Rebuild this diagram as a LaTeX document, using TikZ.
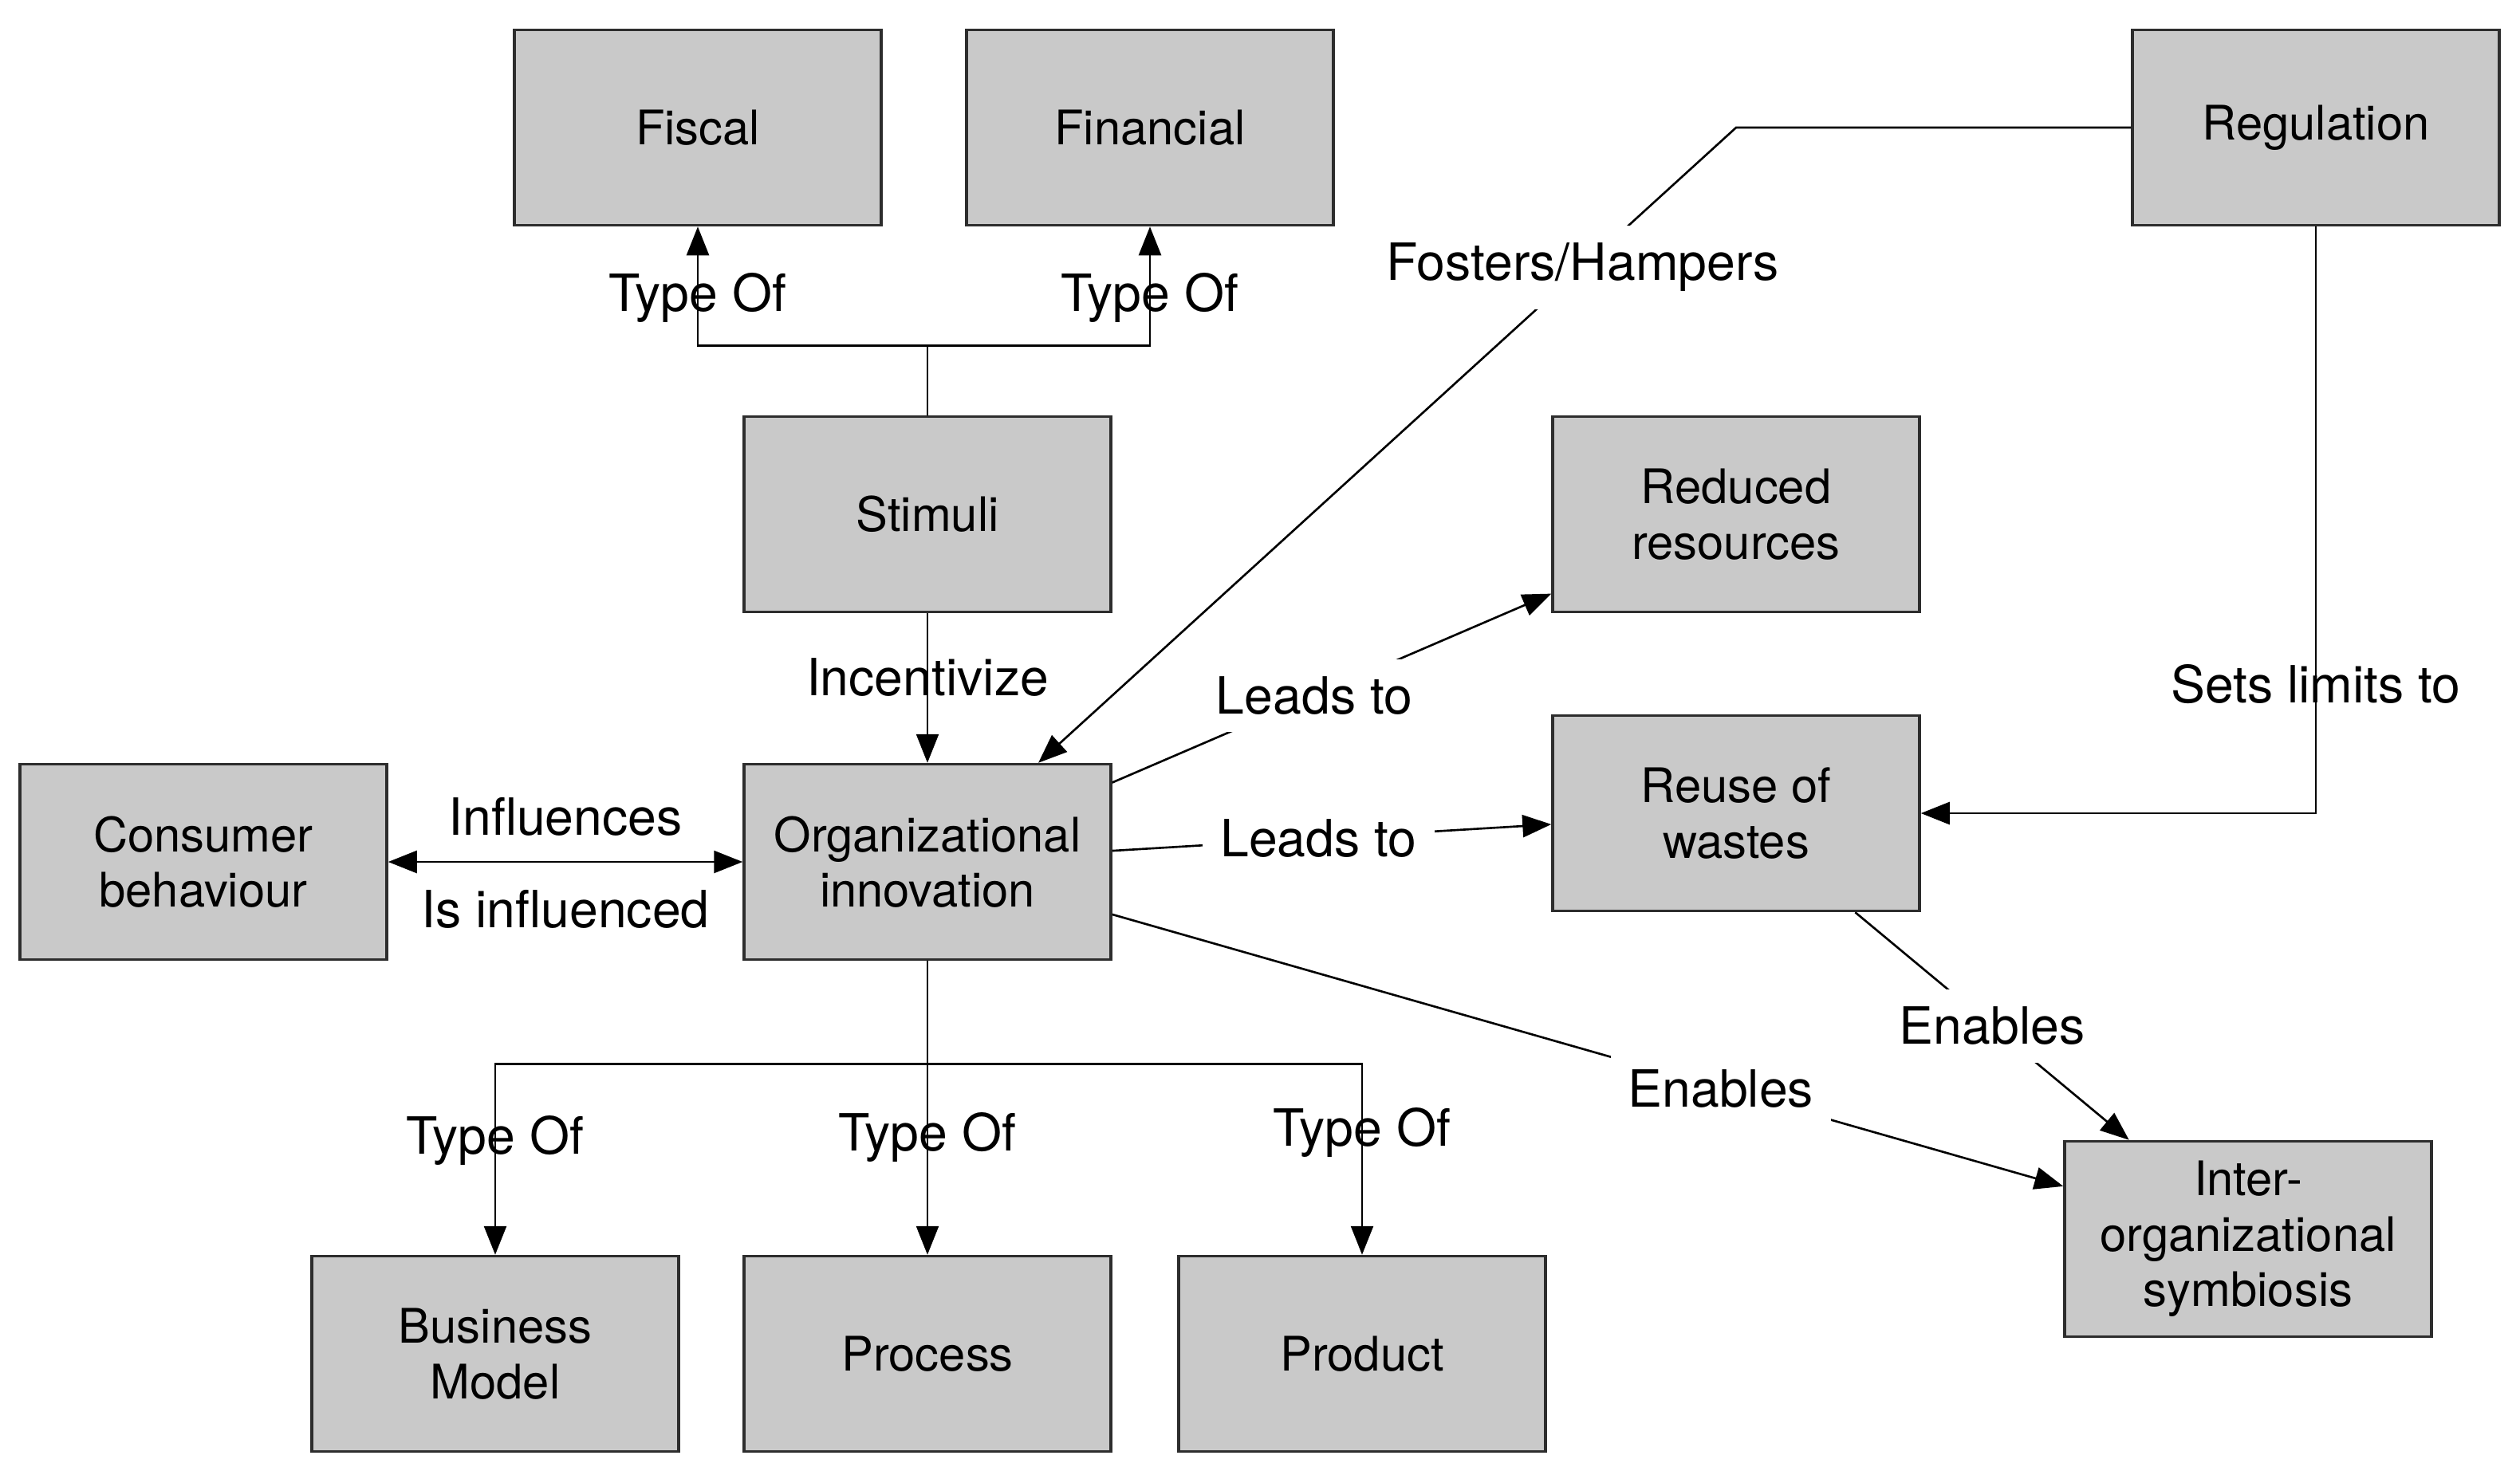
\documentclass[tikz,border=0pt]{standalone}
\usepackage{fontspec}
\setmainfont{TeX Gyre Heros}
\usepackage{tikz}
\usetikzlibrary{arrows.meta, calc, positioning}
\definecolor{boxgray}{RGB}{201,201,201}
\definecolor{edge}{RGB}{45,45,45}

\begin{document}
\begin{tikzpicture}[
        font=\fontsize{18.3}{21}\selectfont,
        box/.style={draw=edge, line width=1pt, fill=boxgray, minimum width=4.6cm, minimum height=2.45cm, align=center, font=\fontsize{17}{19.8}\selectfont},
        tip/.style={-{Triangle[length=0.36cm, width=0.28cm]}, line width=0.75pt},
        tips/.style={{Triangle[length=0.36cm, width=0.28cm]}-{Triangle[length=0.36cm, width=0.28cm]}, line width=0.75pt},
        lbl/.style={fill=white, inner sep=0.22cm}
    ]
    \useasboundingbox (0,0) rectangle (31.6,-18.44);

    % top row
    \node[box] (fiscal) at (8.75, -1.6) {Fiscal};
    \node[box] (financial) at (14.42, -1.6) {Financial};
    \node[box] (reg) at (29.04, -1.6) {Regulation};

    % middle
    \node[box] (stim) at (11.63, -6.45) {Stimuli};
    \node[box] (reduced) at (21.77, -6.45) {Reduced\\resources};
    \node[box] (consumer) at (2.55, -10.81) {Consumer\\behaviour};
    \node[box] (org) at (11.63, -10.81) {Organizational\\innovation};
    \node[box] (reuse) at (21.77, -10.2) {Reuse of\\wastes};
    \node[box] (sym) at (28.19, -15.54) {Inter-\\organizational\\symbiosis};

    % bottom row
    \node[box] (bm) at (6.21, -16.98) {Business\\Model};
    \node[box] (proc) at (11.63, -16.98) {Process};
    \node[box] (prod) at (17.08, -16.98) {Product};

    \coordinate (fork) at ($(stim.north)+(0,0.87)$);
    \coordinate (bar) at ($(org.south)+(0,-1.29)$);

    % stimuli
    \draw[line width=0.75pt] (stim.north) -- (fork);
    \draw[tip] (fork) -| node[pos=0.70]{Type Of} (fiscal.south);
    \draw[tip] (fork) -| node[pos=0.70]{Type Of} (financial.south);
    \draw[tip] (stim) -- node[pos=0.43]{Incentivize} (org);

    % consumer
    \draw[tips] (consumer) -- node[above=0.2cm]{Influences} node[below=0.22cm]{Is influenced} (org);

    % regulation
    \draw[tip] (reg.west) -- (reg.west -| reduced) -- node[lbl, pos=0.22]{Fosters/Hampers} ($(org.north)!0.6!(org.north east)$);
    \draw[tip] (reg.south) |- node[pos=0.39]{Sets limits to} (reuse.east);

    % outcomes
    \draw[tip] (org) -- node[lbl, pos=0.46]{Leads to} (reduced);
    \draw[tip] (org) -- node[lbl, pos=0.47]{Leads to} (reuse);
    \draw[tip] (org) -- node[lbl, pos=0.64]{Enables} (sym);
    \draw[tip] (reuse) -- node[lbl]{Enables} (sym);

    % types of innovation
    \draw[tip] (org) -- node[pos=0.60]{Type Of} (proc);
    \draw[tip] (bar) -| node[pos=0.70]{Type Of} (bm.north);
    \draw[tip] (bar) -| node[pos=0.68]{Type Of} (prod.north);
\end{tikzpicture}
\end{document}
